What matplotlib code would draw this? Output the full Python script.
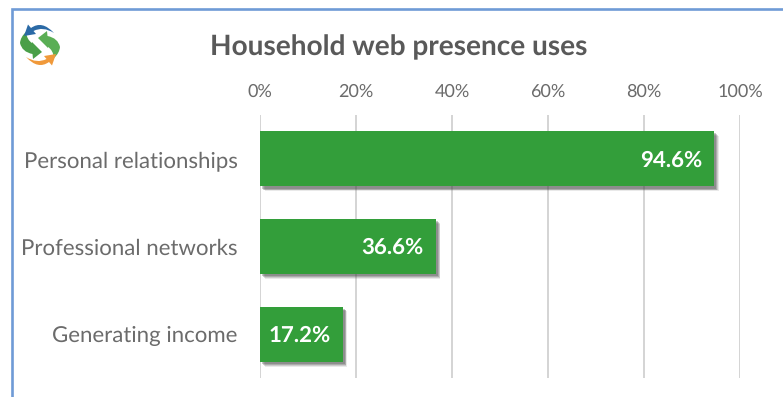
import matplotlib
matplotlib.use("Agg")
import matplotlib.pyplot as plt
import matplotlib.patheffects as pe
from matplotlib.lines import Line2D
from matplotlib.patches import PathPatch
from matplotlib.path import Path

title = "Household web presence uses"
categories = ["Personal relationships", "Professional networks", "Generating income"]
values = [94.6, 36.6, 17.2]
value_labels = ["94.6%", "36.6%", "17.2%"]
tick_values = [0, 20, 40, 60, 80, 100]
tick_labels = ["0%", "20%", "40%", "60%", "80%", "100%"]

W, H = 783, 397
plt.rcParams["font.family"] = ["Lato", "DejaVu Sans"]
plt.rcParams["text.hinting"] = "no_hinting"
fig = plt.figure(figsize=(W / 100, H / 100), dpi=100)
bg = fig.add_axes([0, 0, 1, 1])
bg.set_xlim(0, W)
bg.set_ylim(H, 0)
bg.axis("off")

# Frame of the chart: top and left edges only reach the image
frame = "#6f9bd6"
bg.add_line(Line2D([12, 12, W], [H, 8.5, 8.5], color=frame, lw=1.9, solid_joinstyle="miter"))

# Circular arrows emblem, built from two shapes and their half-turn copies
M, L, Q = Path.MOVETO, Path.LINETO, Path.CURVE3
CX, CY = 40, 45
green_shape = [(M, (38, 38)), (L, (47, 31)), (L, (47.5, 36)), (Q, (58, 38)), (Q, (60, 47)),
               (Q, (59.5, 53)), (Q, (54, 58)), (Q, (53, 50)), (Q, (48, 47)), (L, (48, 48)),
               (L, (38, 38))]
blue_shape = [(M, (54, 33)), (Q, (42, 20)), (Q, (31, 28)), (L, (28, 24.5)), (L, (24, 36)),
              (L, (36, 34)), (L, (33.5, 31)), (Q, (43, 26)), (Q, (54, 33))]


def draw_shape(shape, color, turned=False):
    codes = [c for c, _ in shape]
    verts = [(2 * CX - x, 2 * CY - y) if turned else (x, y) for _, (x, y) in shape]
    bg.add_patch(PathPatch(Path(verts, codes), fc=color, ec="none"))


draw_shape(green_shape, "#5aae55")
draw_shape(green_shape, "#4a9f48", turned=True)
draw_shape(blue_shape, "#2b6aa6")
draw_shape(blue_shape, "#f0993a", turned=True)

fig.text(398.5 / W, 1 - 47 / H, title, ha="center", va="center",
         fontsize=20.2, fontweight="bold", color="#595959")

# Plot area runs from 0% at x=260 to 100% at x=740
ax = fig.add_axes([260 / W, 1 - 378 / H, 480 / W, 263 / H])
ax.patch.set_alpha(0)
ax.set_xlim(0, 100)
ax.set_ylim(2.5, -0.5)
ax.xaxis.tick_top()
ax.set_xticks(tick_values, tick_labels)
ax.set_yticks(range(len(categories)), categories)
ax.tick_params(axis="both", length=0, labelcolor="#6b6b6b")
ax.tick_params(axis="x", pad=10.5, labelsize=13)
ax.tick_params(axis="y", pad=16, labelsize=16)
ax.grid(axis="x", color="#d4d4d4", lw=1.4)
ax.set_axisbelow(True)
for spine in ax.spines.values():
    spine.set_visible(False)

bars = ax.barh(range(len(categories)), values, height=0.63, color="#339e3a")
soft_shadow = [
    pe.SimplePatchShadow(offset=(k, -k), shadow_rgbFace="#4a4a4a", alpha=a)
    for k, a in [(3.4, 0.12), (2.8, 0.18), (2.2, 0.25), (1.6, 0.3)]
]
for bar in bars:
    bar.set_path_effects(soft_shadow + [pe.Normal()])
for y, v, label in zip(range(len(categories)), values, value_labels):
    ax.annotate(label, (v, y), xytext=(-8.5, -1), textcoords="offset points",
                ha="right", va="center", color="white", fontsize=16, fontweight="bold")

fig.savefig("out.png", dpi=100)
